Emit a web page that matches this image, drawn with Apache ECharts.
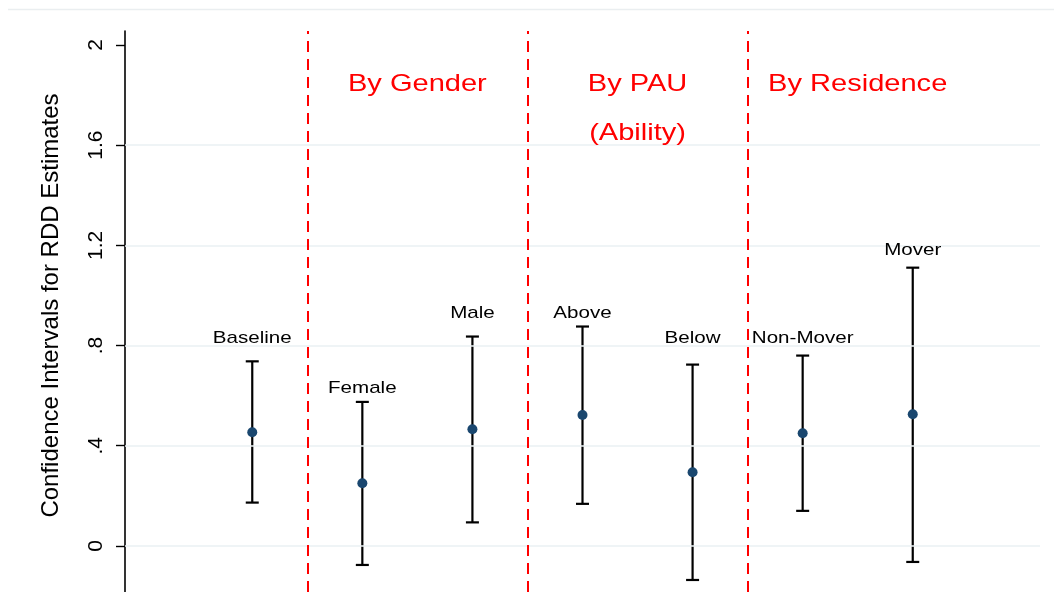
<!DOCTYPE html>
<html>
<head>
<meta charset="utf-8">
<script src="https://cdn.jsdelivr.net/npm/echarts@6/dist/echarts.min.js"></script>
<style>html,body{margin:0;padding:0;background:#fff;}#chart{width:1054px;height:592px;}</style>
</head>
<body>
<div id="chart"></div>
<script>
// ---- data ----
const categories = ['Baseline', 'Female', 'Male', 'Above', 'Below', 'Non-Mover', 'Mover'];
const positions = [1, 2, 3, 4, 5, 6, 7];
const estimates = [0.454, 0.250, 0.466, 0.523, 0.294, 0.450, 0.526];
const lowerCI = [0.173, -0.076, 0.094, 0.168, -0.136, 0.140, -0.064];
const upperCI = [0.737, 0.575, 0.836, 0.876, 0.724, 0.760, 1.111];
const labelLevels = [0.829, 0.629, 0.928, 0.928, 0.829, 0.829, 1.179];
const separators = [1.5, 3.5, 5.5];
const groupTitles = ['By Gender', 'By PAU', '(Ability)', 'By Residence'];
const groupTitleX = [2.5, 4.5, 4.5, 6.5];
const groupTitleY = [1.844, 1.844, 1.649, 1.844];
const yTicks = [0, 0.4, 0.8, 1.2, 1.6, 2];
const yTickLabels = ['0', '.4', '.8', '1.2', '1.6', '2'];
const yTitle = 'Confidence Intervals for RDD Estimates';

const FONT = '"Liberation Sans", Arial, Helvetica, sans-serif';
const STRETCH = 1.21;

const ciData = positions.map((x, i) => [x, lowerCI[i], upperCI[i]]);
const pointData = positions.map((x, i) => [x, estimates[i]]);
const labelData = positions.map((x, i) => [x, labelLevels[i], categories[i]]);
const titleData = groupTitles.map((t, i) => [groupTitleX[i], groupTitleY[i], t]);

const chart = echarts.init(document.getElementById('chart'), null, {renderer: 'canvas'});
chart.setOption({
  animation: false,
  backgroundColor: '#ffffff',
  grid: {left: 125, right: 14, top: 31, bottom: 0, containLabel: false},
  xAxis: {
    type: 'value', min: -0.156, max: 8.156,
    show: false
  },
  yAxis: {
    type: 'value', min: -0.184, max: 2.056,
    name: yTitle, nameLocation: 'middle', nameGap: 62,
    nameTextStyle: {fontSize: 24, fontFamily: FONT, color: '#000', padding: [0, 0, 0, 12]},
    axisLine: {show: true, onZero: false, lineStyle: {color: '#000', width: 1.6}},
    axisTick: {show: true, length: 9, customValues: yTicks, lineStyle: {color: '#000', width: 1.4}},
    axisLabel: {
      customValues: yTicks, rotate: 90, margin: 18,
      fontSize: 21, fontFamily: FONT, color: '#000',
      formatter: v => { const i = yTicks.findIndex(t => Math.abs(t - v) < 1e-6); return i >= 0 ? yTickLabels[i] : ''; }
    },
    splitLine: {show: false}
  },
  graphic: [{
    type: 'line', shape: {x1: 8, y1: 9.5, x2: 1054, y2: 9.5},
    style: {stroke: '#eaeef0', lineWidth: 1.5}, silent: true
  }],
  series: [
    {
      type: 'line', data: [], silent: true,
      markLine: {
        symbol: 'none', silent: true, label: {show: false},
        lineStyle: {color: '#eaf0f3', width: 1.5, type: 'solid'},
        data: yTicks.filter(v => v < 2).map(v => ({yAxis: v}))
      }
    },
    {
      type: 'line', data: [], silent: true, z: 3,
      markLine: {
        symbol: 'none', silent: true, label: {show: false},
        lineStyle: {color: '#ff0000', width: 2, type: [11, 7]},
        data: separators.map(v => ({xAxis: v}))
      }
    },
    {
      type: 'custom', z: 4,
      data: ciData,
      renderItem: function (params, api) {
        const x = api.value(0);
        const lo = api.coord([x, api.value(1)]);
        const hi = api.coord([x, api.value(2)]);
        const cap = 6.5;
        const st = {stroke: '#000', lineWidth: 2.2};
        return {
          type: 'group',
          children: [
            {type: 'line', shape: {x1: hi[0], y1: hi[1], x2: lo[0], y2: lo[1]}, style: st},
            {type: 'line', shape: {x1: hi[0] - cap, y1: hi[1], x2: hi[0] + cap, y2: hi[1]}, style: st},
            {type: 'line', shape: {x1: lo[0] - cap, y1: lo[1], x2: lo[0] + cap, y2: lo[1]}, style: st}
          ]
        };
      }
    },
    {
      type: 'scatter', z: 5,
      data: pointData,
      symbol: 'circle', symbolSize: 10,
      itemStyle: {color: '#1a476f', opacity: 1}
    },
    {
      type: 'custom', z: 6,
      data: labelData,
      renderItem: function (params, api) {
        const p = api.coord([api.value(0), api.value(1)]);
        return {
          type: 'text', x: p[0], y: p[1], scaleX: STRETCH,
          style: {text: labelData[params.dataIndex][2], fontSize: 17, fontFamily: FONT, fill: '#000', align: 'center', verticalAlign: 'middle'}
        };
      }
    },
    {
      type: 'custom', z: 6,
      data: titleData,
      renderItem: function (params, api) {
        const p = api.coord([api.value(0), api.value(1)]);
        return {
          type: 'text', x: p[0], y: p[1], scaleX: STRETCH,
          style: {text: titleData[params.dataIndex][2], fontSize: 24, fontFamily: FONT, fill: '#ff0000', align: 'center', verticalAlign: 'middle'}
        };
      }
    }
  ]
});
</script>
</body>
</html>
